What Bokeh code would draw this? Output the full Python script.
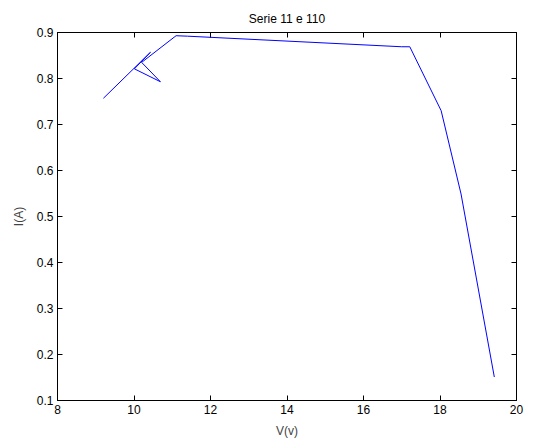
from bokeh.plotting import figure
from bokeh.models import LinearAxis, FixedTicker, PrintfTickFormatter, Range1d, CustomJSTickFormatter
from bokeh.embed import file_html
from bokeh.resources import INLINE

# Data (voltage V, current I)
volts = [9.20, 10.43, 10.01, 10.69, 10.20, 11.10, 11.40, 17.00, 17.21, 18.03, 18.55, 19.42]
amps = [0.757, 0.857, 0.821, 0.793, 0.835, 0.893, 0.892, 0.869, 0.869, 0.730, 0.549, 0.151]

x_ticks = [8, 10, 12, 14, 16, 18, 20]
y_ticks = [0.1, 0.2, 0.3, 0.4, 0.5, 0.6, 0.7, 0.8, 0.9]

FONT = "Liberation Sans"
FS = "12px"

p = figure(
    frame_width=459, frame_height=368,
    x_range=Range1d(8, 20), y_range=Range1d(0.1, 0.9),
    output_backend="svg", toolbar_location=None,
    title="Serie 11 e 110",
    min_border_left=57, min_border_right=10, min_border_top=32, min_border_bottom=42,
    background_fill_color="white", border_fill_color="white",
)
p.title.align = "center"
p.title.text_font = FONT
p.title.text_font_size = FS
p.title.text_font_style = "normal"
p.title.text_color = "black"
p.title.offset = 0
p.title.standoff = 10
p.title.vertical_align = "top"

p.outline_line_color = "black"
p.outline_line_width = 1
p.xgrid.visible = False
p.ygrid.visible = False

p.line(volts, amps, line_color="#0000ff", line_width=1)

for ax, ticks in ((p.xaxis[0], x_ticks), (p.yaxis[0], y_ticks)):
    ax.ticker = FixedTicker(ticks=ticks)
    ax.minor_tick_line_color = None
    ax.major_tick_in = 5
    ax.major_tick_out = 0
    ax.major_label_text_font = FONT
    ax.major_label_text_font_size = FS
    ax.major_label_text_color = "black"
    ax.axis_label_text_font = FONT
    ax.axis_label_text_font_size = FS
    ax.axis_label_text_font_style = "normal"
    ax.axis_line_color = "black"
    ax.major_tick_line_color = "black"

p.yaxis[0].formatter = PrintfTickFormatter(format="%.1f")
p.xaxis[0].axis_label = "V(v)"
p.yaxis[0].axis_label = "I(A)"
p.xaxis[0].major_label_standoff = 4
p.yaxis[0].major_label_standoff = 4
p.xaxis[0].axis_label_standoff = 7
p.yaxis[0].axis_label_standoff = 8

for loc, ticks in (("right", y_ticks), ("above", x_ticks)):
    ax = LinearAxis(ticker=FixedTicker(ticks=ticks),
                    formatter=CustomJSTickFormatter(code="return ''"))
    ax.minor_tick_line_color = None
    ax.major_tick_in = 5
    ax.major_tick_out = 0
    ax.major_label_standoff = 0
    ax.axis_line_color = "black"
    ax.major_tick_line_color = "black"
    p.add_layout(ax, loc)

open("out.html", "w").write(file_html(p, INLINE))
